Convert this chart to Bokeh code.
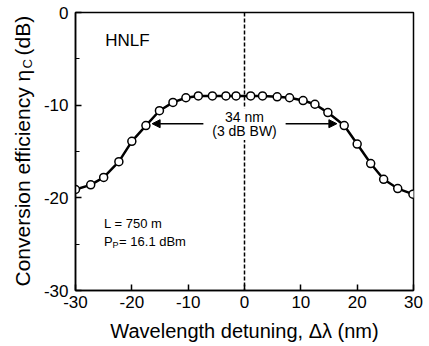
import math
from bokeh.plotting import figure
from bokeh.layouts import row
from bokeh.models import Range1d, FixedTicker, Span, Label, Arrow, NormalHead, ColumnDataSource
from bokeh.embed import file_html
from bokeh.resources import INLINE

# Data
detuning_nm = [-30.0, -27.3, -25.0, -22.3, -20.0, -17.5, -15.1, -12.7, -10.4, -8.2, -5.7, -3.3, -1.5,
               1.1, 3.2, 5.8, 8.0, 10.4, 12.5, 14.8, 17.7, 20.0, 22.4, 24.7, 27.2, 29.9]
efficiency_db = [-19.1, -18.6, -17.8, -16.1, -13.9, -12.2, -10.6, -9.7, -9.2, -9.0, -9.0, -9.0, -9.0,
                 -9.0, -9.0, -9.1, -9.2, -9.5, -9.9, -10.8, -12.2, -14.2, -16.3, -18.0, -19.0, -19.6]
x_ticks = [-30, -20, -10, 0, 10, 20, 30]
y_ticks = [-30, -20, -10, 0]
y_minor = [-25, -15, -5]
bandwidth_nm = 34

FONT = "Liberation Sans"
W, H = 429, 346
LABEL_W = 40
TOP, BOTTOM = 12, 56
Y0, Y1 = -30, 0

# ---------- narrow panel holding the rotated y-axis title ----------
lp = figure(width=LABEL_W, height=H, output_backend="svg", toolbar_location=None,
            x_range=Range1d(0, LABEL_W), y_range=Range1d(Y0, Y1),
            x_axis_location=None, y_axis_location=None,
            min_border_left=0, min_border_right=0, min_border_top=TOP, min_border_bottom=BOTTOM)
lp.outline_line_color = None
lp.xgrid.visible = False
lp.ygrid.visible = False
lp.background_fill_color = "white"
lp.border_fill_color = "white"

frame_h = H - TOP - BOTTOM

def py_to_y(py):
    return Y1 - (py - TOP) * (Y1 - Y0) / frame_h

def ylab(text, py, size, xo=0):
    lp.add_layout(Label(x=22, y=py_to_y(py), text=text, text_font=FONT, text_font_size=size,
                        text_align="left", text_baseline="middle", angle=math.pi / 2,
                        x_offset=xo, text_color="black"))

ylab("Conversion efficiency \u03b7", 286, "21px")
ylab("C", 68, "13px", xo=5)
ylab("(dB)", 55, "21px")

# ---------- main plot ----------
p = figure(width=W - LABEL_W, height=H, output_backend="svg", toolbar_location=None,
           x_range=Range1d(-30, 30), y_range=Range1d(Y0, Y1),
           min_border_left=74 - LABEL_W, min_border_right=16, min_border_top=TOP, min_border_bottom=BOTTOM)
p.background_fill_color = "white"
p.border_fill_color = "white"
p.xgrid.visible = False
p.ygrid.visible = False
p.outline_line_color = "black"
p.outline_line_width = 1.5

for ax in (p.xaxis[0], p.yaxis[0]):
    ax.axis_line_color = "black"
    ax.axis_line_width = 1.5
    ax.major_tick_line_color = "black"
    ax.major_tick_line_width = 1.5
    ax.major_tick_in = 6
    ax.major_tick_out = 0
    ax.minor_tick_line_color = "black"
    ax.minor_tick_line_width = 1.2
    ax.minor_tick_in = 4
    ax.minor_tick_out = 0
    ax.major_label_text_font = FONT
    ax.major_label_text_font_size = "17px"
    ax.major_label_text_color = "black"

p.xaxis[0].ticker = FixedTicker(ticks=x_ticks)
p.xaxis[0].major_label_overrides = {t: ("%d" % t) for t in x_ticks}
p.xaxis[0].major_label_standoff = 5
p.xaxis[0].axis_label = "Wavelength detuning, \u0394\u03bb (nm)"
p.xaxis[0].axis_label_text_font = FONT
p.xaxis[0].axis_label_text_font_size = "20px"
p.xaxis[0].axis_label_text_font_style = "normal"
p.xaxis[0].axis_label_text_color = "black"
p.xaxis[0].axis_label_standoff = 9

p.yaxis[0].ticker = FixedTicker(ticks=y_ticks, minor_ticks=y_minor)
p.yaxis[0].major_label_overrides = {t: ("%d" % t) for t in y_ticks}
p.yaxis[0].major_label_standoff = 7

# dashed zero line
p.add_layout(Span(location=0, dimension="height", line_color="black", line_width=1.5, line_dash="4 2"))

src = ColumnDataSource(dict(x=detuning_nm, y=efficiency_db))
p.line("x", "y", source=src, line_color="black", line_width=2.5)
p.scatter("x", "y", source=src, size=8, marker="circle", fill_color="white",
          line_color="black", line_width=1.5)

# bandwidth arrows
half = bandwidth_nm / 2.0
arrow_y = -12.0
for tail, head in ((-7.3, -half + 0.6), (7.3, half - 0.6)):
    p.add_layout(Arrow(end=NormalHead(size=8, fill_color="black", line_color="black"),
                       x_start=tail, y_start=arrow_y, x_end=head, y_end=arrow_y,
                       line_color="black", line_width=1.5))

def lab(text, x, y, size, align="left", baseline="middle", xo=0, yo=0, bg=None):
    p.add_layout(Label(x=x, y=y, text=text, text_font=FONT, text_font_size=size,
                       text_align=align, text_baseline=baseline,
                       x_offset=xo, y_offset=yo, text_color="black",
                       background_fill_color=bg, padding=1))

lab("HNLF", -24.9, -3.0, "17px")
lab("34 nm", 0, -11.3, "14px", align="center", bg="white")
lab("(3 dB BW)", 0, -12.8, "14px", align="center", bg="white")
lab("L = 750 m", -25.1, -22.8, "13px")
lab("P", -25.1, -24.7, "13px")
lab("P", -25.1, -24.7, "9px", xo=8.5, yo=-4)
lab("= 16.1 dBm", -25.1, -24.7, "13px", xo=15)

layout = row(lp, p, spacing=0)
open("out.html", "w").write(file_html(layout, INLINE))
